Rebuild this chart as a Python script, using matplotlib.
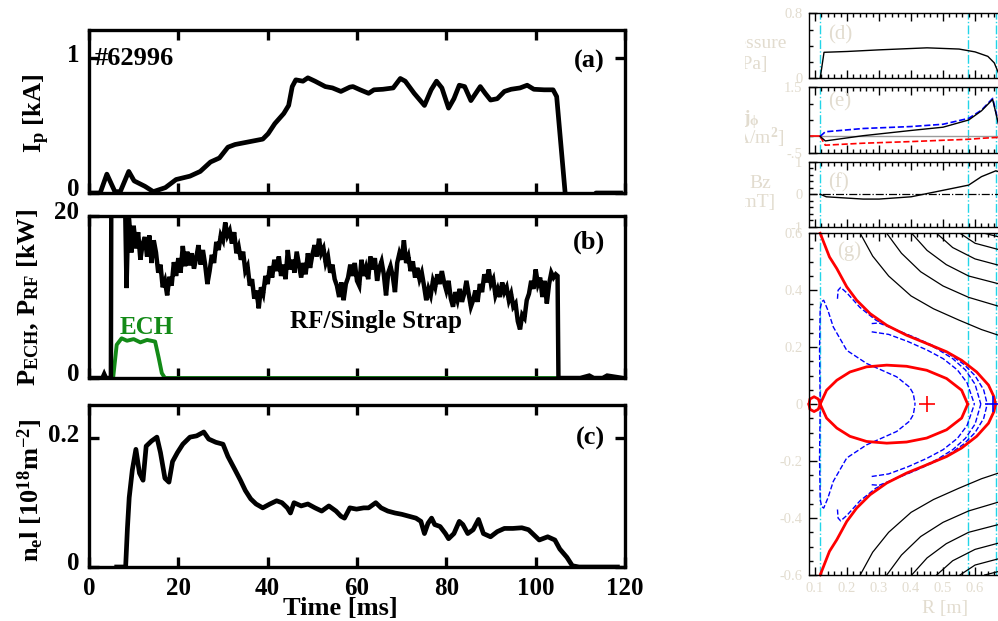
import numpy as np
import matplotlib.pyplot as plt
from matplotlib.transforms import ScaledTranslation, Bbox, TransformedBbox

plt.rcParams['font.family'] = 'Liberation Serif'
plt.rcParams['font.weight'] = 'bold'
plt.rcParams['mathtext.fontset'] = 'custom'
plt.rcParams['mathtext.rm'] = 'Liberation Serif:bold'
plt.rcParams['mathtext.bf'] = 'Liberation Serif:bold'
plt.rcParams['mathtext.it'] = 'Liberation Serif:bold'

# ---- shot #62996 time traces ----
t_ip = [0.5, 2.5, 4.0, 5.8, 7.0, 8.9, 10.1, 12.5, 14.4, 17.1, 19.5, 22.6, 24.9, 27.2, 29.2,
        31.1, 32.7, 35.8, 38.9, 40.1, 41.6, 43.6, 44.7, 45.5, 46.3, 47.9, 49.0, 50.6, 52.9,
        54.5, 56.4, 58.4, 59.1, 60.7, 62.6, 63.8, 65.8, 68.1, 69.7, 70.8, 72.8, 75.1, 76.6,
        77.8, 79.0, 80.5, 81.7, 82.9, 84.1, 85.5, 87.6, 88.7, 89.9, 91.4, 93.0, 94.5, 96.5,
        98.1, 99.6, 101.9, 103.9, 104.7, 106.6, 108.0, 112.5, 113.5, 119.0]
ip = [0.0, 0.0, 0.14, 0.01, 0.01, 0.16, 0.09, 0.05, 0.01, 0.04, 0.10, 0.125, 0.16, 0.23, 0.26,
      0.34, 0.36, 0.38, 0.40, 0.44, 0.515, 0.59, 0.65, 0.79, 0.84, 0.83, 0.855, 0.83, 0.79,
      0.78, 0.754, 0.786, 0.79, 0.766, 0.74, 0.766, 0.77, 0.78, 0.85, 0.83, 0.74, 0.65, 0.766,
      0.83, 0.78, 0.63, 0.70, 0.80, 0.79, 0.686, 0.79, 0.74, 0.69, 0.70, 0.754, 0.77, 0.78,
      0.80, 0.77, 0.766, 0.766, 0.716, 0.0, -0.05, -0.05, 0.0, 0.0]

t_rf = [0.3, 3.0, 3.4, 3.8, 4.9, 5.0, 8.0, 8.4, 8.8,
        9.0, 9.5, 10.0, 10.5, 11.0, 11.5, 12.0, 12.5, 13.0, 13.5, 14.0, 14.5, 15.0, 15.5,
        16.0, 16.5, 17.0, 17.5, 18.0, 18.5, 19.0, 19.5, 20.0, 20.5, 21.0, 21.5, 22.0, 22.5,
        23.0, 23.5, 24.0, 24.5, 25.0, 25.5, 26.0, 26.5, 27.0, 27.5, 28.0, 28.5, 29.0, 29.5,
        30.0, 30.5, 31.0, 31.5, 32.0, 32.5, 33.0, 33.5, 34.0, 34.5, 35.0, 35.5, 36.0, 36.5,
        37.0, 37.5, 38.0, 38.5, 39.0, 39.5, 40.0, 40.5, 41.0, 41.5, 42.0, 42.5, 43.0, 43.5,
        44.0, 44.5, 45.0, 45.5, 46.0, 46.5, 47.0, 47.5, 48.0, 48.5, 49.0, 49.5, 50.0, 50.5,
        51.0, 51.5, 52.0, 52.5, 53.0, 53.5, 54.0, 54.5, 55.0, 55.5, 56.0, 56.5, 57.0, 57.5,
        58.0, 58.5, 59.0, 59.5, 60.0, 60.5, 61.0, 61.5, 62.0, 62.5, 63.0, 63.5, 64.0, 64.5,
        65.0, 65.5, 66.0, 66.5, 67.0, 67.5, 68.0, 68.5, 69.0, 69.5, 70.0, 70.5, 71.0, 71.5,
        72.0, 72.5, 73.0, 73.5, 74.0, 74.5, 75.0, 75.5, 76.0, 76.5, 77.0, 77.5, 78.0, 78.5,
        79.0, 79.5, 80.0, 80.5, 81.0, 81.5, 82.0, 82.5, 83.0, 83.5, 84.0, 84.5, 85.0, 85.5,
        86.0, 86.5, 87.0, 87.5, 88.0, 88.5, 89.0, 89.5, 90.0, 90.5, 91.0, 91.5, 92.0, 92.5,
        93.0, 93.5, 94.0, 94.5, 95.0, 95.5, 96.0, 96.5, 97.0, 97.5, 98.0, 98.5, 99.0, 99.5,
        100.0, 100.5, 101.0, 101.5, 102.0, 102.5, 103.0, 103.5, 104.0, 104.5, 104.9,
        105.1, 110.0, 112.0, 113.0, 115.0, 116.0, 119.5]
p_rf = [0.0, 0.0, 0.5, 0.0, 0.0, 24.0, 24.0, 11.1, 20.3,
        19.5, 15.5, 18.8, 16.0, 18.0, 14.6, 16.5, 17.4, 15.0, 17.6, 14.2, 17.0, 15.5, 13.0,
        14.0, 11.2, 12.0, 10.2, 12.5, 11.4, 14.3, 12.6, 14.8, 13.0, 16.3, 13.8, 15.6, 13.9,
        15.4, 13.5, 14.8, 16.4, 14.0, 15.8, 14.0, 11.6, 13.2, 15.2, 14.2, 16.8, 15.8, 17.6,
        17.0, 19.2, 17.6, 18.2, 16.6, 18.0, 15.4, 16.2, 14.6, 15.6, 13.2, 13.8, 11.4, 12.2,
        9.8, 10.8, 8.6, 11.2, 10.4, 12.6, 11.6, 13.8, 12.4, 14.6, 13.2, 15.0, 12.6, 14.0,
        12.2, 15.8, 13.4, 14.6, 13.0, 15.6, 14.0, 12.4, 14.2, 12.8, 15.4, 13.6, 15.2, 16.4,
        15.0, 17.2, 15.4, 16.0, 14.2, 15.0, 13.0, 14.0, 12.2, 11.4, 10.0, 11.8, 9.6, 11.6,
        12.4, 14.0, 12.6, 14.2, 12.0, 11.4, 14.6, 12.6, 13.6, 12.2, 15.0, 13.4, 14.8, 12.0,
        13.6, 14.4, 12.8, 10.2, 13.0, 13.8, 12.6, 10.6, 14.2, 15.4, 14.6, 17.0, 14.2, 15.0,
        13.2, 14.4, 12.4, 13.6, 12.2, 13.0, 11.4, 9.6, 11.0, 10.2, 12.0, 11.2, 12.8, 11.6,
        13.2, 11.8, 10.8, 12.0, 9.8, 8.8, 10.6, 9.6, 11.0, 9.4, 10.4, 12.0, 10.4, 8.8,
        9.6, 10.8, 9.4, 11.6, 10.6, 12.8, 11.8, 13.4, 11.6, 12.2, 10.2, 11.0, 10.0, 11.8,
        10.6, 11.2, 9.6, 10.4, 8.8, 9.2, 7.0, 6.0, 7.8, 7.4, 9.6, 10.4, 12.0, 11.0,
        13.4, 11.6, 12.4, 10.0, 12.0, 9.2, 11.6, 13.0, 12.4, 12.8, 12.6,
        0.0, 0.0, 0.3, 0.0, 0.0, 0.3, 0.0]

t_ech = [0.0, 5.4, 6.2, 7.3, 8.5, 10.0, 11.5, 13.0, 14.8, 15.6, 16.3, 17.0, 120.0]
p_ech = [0.0, 0.0, 4.1, 4.9, 4.6, 4.8, 4.4, 4.7, 4.5, 2.5, 0.6, 0.0, 0.0]

t_ne = [6.2, 8.2, 8.6, 9.0, 9.7, 10.5, 11.3, 12.1, 12.8, 14.0, 15.2, 16.0, 17.0, 17.9, 18.7,
        19.8, 21.0, 22.6, 24.1, 25.7, 26.8, 28.4, 30.0, 31.1, 32.7, 33.9, 35.0, 36.2, 37.4,
        38.9, 40.5, 42.0, 43.2, 44.4, 45.1, 45.9, 47.5, 49.0, 50.6, 52.1, 53.7, 55.3, 56.4,
        57.2, 58.4, 59.9, 61.5, 62.6, 64.2, 65.4, 66.9, 68.5, 70.0, 71.6, 73.2, 74.3, 75.1,
        75.9, 76.7, 77.4, 78.6, 79.8, 80.5, 81.7, 82.9, 83.7, 84.8, 86.0, 87.2, 88.3, 89.9,
        91.4, 93.0, 94.9, 96.9, 98.4, 99.6, 100.8, 102.7, 104.3, 105.4, 107.0, 108.2, 109.7,
        118.3]
ne = [0.0, 0.0, 0.06, 0.108, 0.151, 0.183, 0.146, 0.135, 0.188, 0.196, 0.202, 0.178, 0.138,
      0.132, 0.164, 0.178, 0.191, 0.202, 0.204, 0.210, 0.199, 0.194, 0.191, 0.172, 0.151,
      0.135, 0.119, 0.106, 0.098, 0.092, 0.098, 0.103, 0.100, 0.092, 0.084, 0.100, 0.095,
      0.098, 0.092, 0.087, 0.095, 0.087, 0.079, 0.076, 0.092, 0.090, 0.092, 0.092, 0.100,
      0.092, 0.087, 0.084, 0.082, 0.079, 0.076, 0.071, 0.052, 0.068, 0.076, 0.066, 0.063,
      0.052, 0.044, 0.052, 0.071, 0.066, 0.052, 0.058, 0.074, 0.052, 0.047, 0.055, 0.060,
      0.060, 0.061, 0.058, 0.050, 0.042, 0.047, 0.042, 0.028, 0.015, 0.002, 0.0, 0.0]

# ---- equilibrium profiles vs R ----
faded = '#e2dccf'
r_pres = [0.116, 0.128, 0.20, 0.30, 0.45, 0.55, 0.60, 0.64, 0.66, 0.68]
pres = [0.0, 0.32, 0.33, 0.35, 0.375, 0.36, 0.325, 0.27, 0.19, 0.0]
r_j = [0.116, 0.132, 0.25, 0.40, 0.50, 0.58, 0.62, 0.655, 0.68]
j_tot = [0.0, -0.14, 0.02, 0.18, 0.28, 0.50, 0.78, 1.13, 0.09]
j_blue = [0.0, 0.14, 0.24, 0.30, 0.37, 0.55, 0.80, 1.16, 0.14]
j_red = [0.0, -0.27, -0.21, -0.16, -0.12, -0.09, -0.06, -0.04, -0.03]
r_bz = [0.116, 0.135, 0.25, 0.30, 0.40, 0.48, 0.58, 0.62, 0.665, 0.69]
bz = [0.0, -0.08, -0.15, -0.15, -0.08, 0.08, 0.28, 0.54, 0.72, 0.64]

# flux surfaces, upper half (R, Z); lower half is the mirror image
sep_r = [0.116, 0.145, 0.168, 0.199, 0.230, 0.272, 0.324, 0.386, 0.449, 0.511, 0.558, 0.605,
         0.642, 0.659, 0.664]
sep_z = [0.600, 0.517, 0.476, 0.412, 0.365, 0.318, 0.277, 0.242, 0.213, 0.184, 0.154, 0.113,
         0.067, 0.026, 0.0]
core_r = [0.116, 0.136, 0.168, 0.209, 0.261, 0.324, 0.386, 0.449, 0.511, 0.558, 0.577]
core_z = [0.0, 0.049, 0.084, 0.113, 0.131, 0.137, 0.133, 0.119, 0.090, 0.049, 0.0]
loop_r = [0.116, 0.110, 0.097, 0.084, 0.081]
loop_z = [0.0, 0.018, 0.026, 0.018, 0.0]
open_r = [[0.241, 0.28, 0.33, 0.40, 0.47, 0.55, 0.62, 0.70],
          [0.324, 0.37, 0.43, 0.50, 0.58, 0.70],
          [0.402, 0.45, 0.51, 0.58, 0.70],
          [0.48, 0.53, 0.60, 0.70],
          [0.553, 0.60, 0.70],
          [0.63, 0.70]]
open_z = [[0.60, 0.52, 0.45, 0.38, 0.335, 0.295, 0.262, 0.232],
          [0.60, 0.53, 0.465, 0.415, 0.375, 0.335],
          [0.60, 0.54, 0.49, 0.45, 0.415],
          [0.60, 0.55, 0.51, 0.48],
          [0.60, 0.565, 0.535],
          [0.60, 0.58]]
dash_r = [[0.116, 0.114, 0.116, 0.121, 0.127, 0.14, 0.157, 0.199, 0.261, 0.355, 0.395, 0.407, 0.4125],
          [0.17, 0.172, 0.18, 0.20, 0.24, 0.29, 0.35, 0.41, 0.47, 0.52, 0.565, 0.60, 0.627, 0.638],
          [0.277, 0.30, 0.36, 0.42, 0.48, 0.53, 0.57, 0.60, 0.618],
          [0.277, 0.33, 0.39, 0.45, 0.50, 0.545, 0.575, 0.598]]
dash_z = [[0.0, 0.19, 0.336, 0.36, 0.365, 0.33, 0.271, 0.189, 0.143, 0.096, 0.06, 0.037, 0.0],
          [0.37, 0.40, 0.41, 0.39, 0.34, 0.295, 0.262, 0.235, 0.205, 0.175, 0.14, 0.10, 0.05, 0.0],
          [0.283, 0.285, 0.258, 0.228, 0.195, 0.16, 0.12, 0.07, 0.0],
          [0.254, 0.245, 0.22, 0.19, 0.16, 0.12, 0.075, 0.0]]
cyan_r = [0.116, 0.579, 0.666]

fig = plt.figure(figsize=(9.98, 6.21), dpi=100)
W, H = 998.0, 621.0


def px_axes(x0, y0, x1, y1):
    return fig.add_axes([x0 / W, 1 - y1 / H, (x1 - x0) / W, (y1 - y0) / H])


def lift_labels(ax, dy):
    off = ScaledTranslation(0, dy / 72.0, fig.dpi_scale_trans)
    for lab in ax.get_yticklabels():
        lab.set_transform(lab.get_transform() + off)


def frame(ax):
    for s in ax.spines.values():
        s.set_linewidth(2.4)
    ax.tick_params(direction='in', length=7, width=2.4, top=True, right=True,
                   labelsize=18, pad=7)
    ax.set_xlim(0, 120)
    ax.set_xticks([0, 20, 40, 60, 80, 100, 120])


lw = 3.4
ax_a = px_axes(89, 30, 625, 193)
frame(ax_a)
ax_a.plot(t_ip, ip, color='black', lw=lw, solid_joinstyle='round')
ax_a.set_ylim(0, 1.21)
ax_a.set_yticks([0, 1])
ax_a.set_yticklabels(['0', '1'])
ax_a.tick_params(labelbottom=False)
ax_a.text(1.3, 0.95, '#62996', fontsize=19, fontweight='bold')
ax_a.text(115.5, 0.93, '(a)', fontsize=19, fontweight='bold', ha='right')
lift_labels(ax_a, 4)

ax_b = px_axes(89, 216, 625, 378)
frame(ax_b)
ax_b.plot(t_ech, p_ech, color='#138a17', lw=lw - 0.6, solid_joinstyle='round', zorder=2)
ax_b.plot(t_rf, p_rf, color='black', lw=lw - 0.2, solid_joinstyle='miter', zorder=3)
ax_b.set_ylim(0, 20)
ax_b.set_yticks([0, 20])
ax_b.tick_params(labelbottom=False, right=False)
ax_b.text(6.9, 5.4, 'ECH', color='#138a17', fontsize=18, fontweight='bold')
ax_b.text(45.0, 6.2, 'RF/Single Strap', fontsize=18, fontweight='bold')
ax_b.text(115.5, 16.0, '(b)', fontsize=19, fontweight='bold', ha='right')
lift_labels(ax_b, 4)

ax_c = px_axes(89, 405, 625, 567)
frame(ax_c)
ax_c.plot(t_ne, ne, color='black', lw=lw, solid_joinstyle='round')
ax_c.set_ylim(0, 0.252)
ax_c.set_yticks([0, 0.2])
ax_c.set_yticklabels(['0', '0.2'])
ax_c.tick_params(axis='x', pad=7)
ax_c.text(115.5, 0.19, '(c)', fontsize=19, fontweight='bold', ha='right')
lift_labels(ax_c, 4)

fig.text(340 / W, 1 - 609 / H, 'Time [ms]', fontsize=19, fontweight='bold', ha='center', va='center')
fig.text(37 / W, 1 - 113 / H, r'I$_\mathbf{p}$ [kA]', fontsize=19, rotation=90, ha='center', va='center')
fig.text(28 / W, 1 - 298 / H, r'P$_\mathbf{ECH}$, P$_\mathbf{RF}$ [kW]', fontsize=19,
         rotation=90, ha='center', va='center')
fig.text(31 / W, 1 - 490 / H, r'n$_\mathbf{e}$l [10$^\mathbf{18}$m$^\mathbf{-2}$]', fontsize=19,
         rotation=90, ha='center', va='center')

# ---- right-hand equilibrium panels ----
xr = (0.082, 0.72)
xr_right = 809.3 + (xr[1] - xr[0]) * 320


def eq_frame(ax, ylim):
    ax.set_xlim(*xr)
    ax.set_ylim(*ylim)
    for s in ax.spines.values():
        s.set_linewidth(1.0)
    ax.minorticks_on()
    ax.tick_params(which='both', direction='in', top=True, right=True, colors='black',
                   labelcolor=faded, labelsize=10.5, width=1.0)
    ax.tick_params(which='major', length=6, pad=5)
    ax.tick_params(which='minor', length=3)
    ax.set_xticks(np.arange(0.1, 0.71, 0.1))
    for r in cyan_r:
        ax.axvline(r, color='#22d5e8', lw=1.0, ls='-.', zorder=1)


ax_d = px_axes(809.3, 13.3, xr_right, 78.3)
eq_frame(ax_d, (0, 0.8))
ax_d.set_yticks([0, 0.8])
ax_d.set_yticklabels(['0', '0.8'], fontweight='normal')
ax_d.set_xticklabels([])
ax_d.plot(r_pres, pres, color='black', lw=1.0)
ax_d.text(0.14, 0.48, '(d)', color=faded, fontsize=15, fontweight='normal')

ax_e = px_axes(809.3, 87.3, xr_right, 152.7)
eq_frame(ax_e, (-0.5, 1.5))
ax_e.set_yticks([-0.5, 1.5])
ax_e.set_yticklabels(['-.5', '1.5'], fontweight='normal')
ax_e.set_xticklabels([])
ax_e.axhline(0, color='#9a9a9a', lw=1.0)
ax_e.plot([xr[0], 0.116], [0, 0], color='red', lw=1.2)
ax_e.plot(r_j, j_red, color='red', lw=1.2, ls='--')
ax_e.plot(r_j, j_blue, color='blue', lw=1.2, ls='--')
ax_e.plot(r_j, j_tot, color='black', lw=1.0)
ax_e.text(0.14, 0.9, '(e)', color=faded, fontsize=15, fontweight='normal')

ax_f = px_axes(809.3, 161.7, xr_right, 226.7)
eq_frame(ax_f, (-1, 1))
ax_f.set_yticks([-1, 0, 1])
ax_f.set_yticklabels(['-1', '0', '1'], fontweight='normal')
ax_f.set_xticklabels([])
ax_f.axhline(0, color='black', lw=0.9, ls='-.')
ax_f.plot(r_bz, bz, color='black', lw=1.0)
ax_f.text(0.14, 0.2, '(f)', color=faded, fontsize=15, fontweight='normal')

ax_g = px_axes(809.3, 233.3, xr_right, 575)
eq_frame(ax_g, (-0.6, 0.6))
ax_g.set_yticks([-0.6, -0.4, -0.2, 0, 0.2, 0.4, 0.6])
ax_g.set_yticklabels(['-0.6', '-0.4', '-0.2', '0', '0.2', '0.4', '0.6'], fontweight='normal')
ax_g.set_xticklabels(['0.1', '0.2', '0.3', '0.4', '0.5', '0.6', ''], fontweight='normal')
for rr, zz in zip(open_r, open_z):
    ax_g.plot(rr, zz, color='black', lw=0.9)
    ax_g.plot(rr, [-z for z in zz], color='black', lw=0.9)
for rr, zz in zip(dash_r, dash_z):
    ax_g.plot(rr, zz, color='blue', lw=1.0, ls='--')
    ax_g.plot(rr, [-z for z in zz], color='blue', lw=1.0, ls='--')
for rr, zz in [(sep_r, sep_z), (core_r, core_z), (loop_r, loop_z)]:
    ax_g.plot(rr, zz, color='red', lw=2.0, clip_on=False)
    ax_g.plot(rr, [-z for z in zz], color='red', lw=2.0, clip_on=False)
ax_g.plot([0.449], [0], marker='+', color='red', ms=12, mew=1.2)
ax_g.plot([0.657], [0], marker='+', color='blue', ms=12, mew=1.2)
ax_g.text(0.17, 0.52, '(g)', color=faded, fontsize=15, fontweight='normal',
          bbox=dict(facecolor='white', edgecolor='none', pad=1))
fig.text(945 / W, 1 - 609 / H, 'R [m]', color=faded, fontsize=14, fontweight='normal',
         ha='center', va='center')

# panel labels of the right-hand figure are cropped at its left edge
crop = TransformedBbox(Bbox([[745 / W, 0], [1, 1]]), fig.transFigure)
for x, y, s in [(787, 43, 'Pressure'), (768, 65, '[Pa]'), (760, 120, r'$j_\phi$'),
                (785, 138, '[A/m$^2$]'), (771, 183, 'Bz'), (776, 203, '[mT]')]:
    tx = fig.text(x / W, 1 - y / H, s, color=faded, fontsize=14, fontweight='normal',
                  ha='right', va='center')
    tx.set_clip_box(crop)
    tx.set_clip_on(True)

fig.savefig('out.png', dpi=100)
